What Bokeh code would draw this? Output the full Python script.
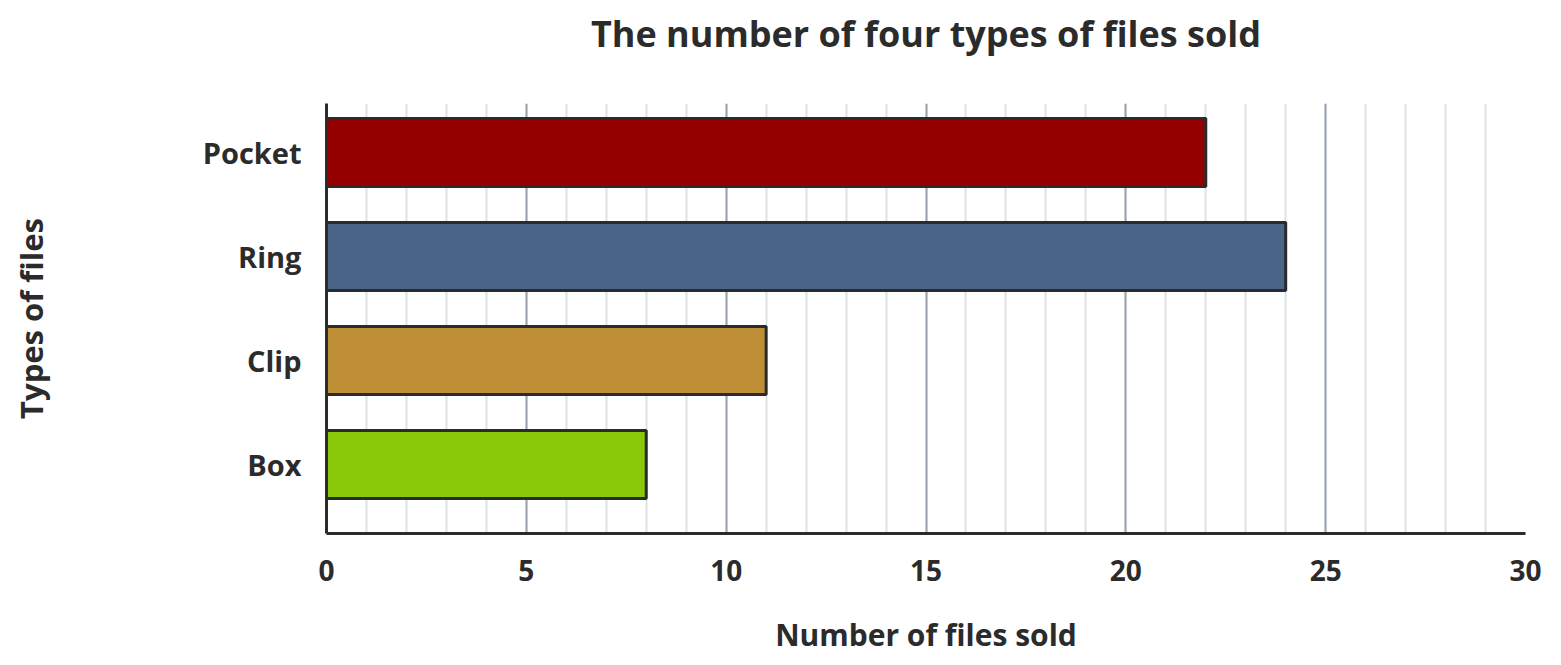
from bokeh.plotting import figure
from bokeh.models import (ColumnDataSource, FixedTicker, SingleIntervalTicker, Range1d,
                          Title, LinearAxis)
from bokeh.embed import file_html
from bokeh.resources import INLINE

title = "The number of four types of files sold"
categories = ["Pocket", "Ring", "Clip", "Box"]
values = [22, 24, 11, 8]
colors = ["#940000", "#4a6588", "#bf8f38", "#8ac80a"]

positions = [len(categories) - i for i in range(len(categories))]
src = ColumnDataSource(dict(y=positions, v=values, c=colors, name=categories))

FONT = "Open Sans"
TXT = "#2b2b2b"

p = figure(width=1553, height=657, output_backend="svg", toolbar_location=None,
           x_range=Range1d(0, 30), y_range=Range1d(0.337, 4.471),
           min_border_left=326, min_border_right=28, min_border_top=103, min_border_bottom=124)

p.hbar(y="y", left=0, right="v", height=0.654, fill_color="c", line_color="#2b2b2b",
       line_width=3, source=src)

# invisible spacer between frame and title
spacer = LinearAxis(axis_line_color=None, major_tick_line_color=None, minor_tick_line_color=None,
                    major_label_text_color=None, major_tick_in=0, major_tick_out=40,
                    minor_tick_in=0, minor_tick_out=0)
p.add_layout(spacer, "above")
p.add_layout(Title(text=title, align="center", vertical_align="bottom", standoff=12,
                   text_font=FONT, text_font_size="36px", text_font_style="bold",
                   text_color=TXT), "above")

p.outline_line_color = None
p.background_fill_color = "white"
p.border_fill_color = "white"

xt = SingleIntervalTicker(interval=5, num_minor_ticks=5)
p.xaxis[0].ticker = xt
p.xgrid.ticker = xt
p.xgrid.grid_line_color = "#9aa3af"
p.xgrid.grid_line_width = 2
p.xgrid.minor_grid_line_color = "#dde2e8"
p.xgrid.minor_grid_line_width = 2
p.ygrid.grid_line_color = None

xaxis = p.below[0]
yaxis = p.left[0]
yaxis.ticker = FixedTicker(ticks=positions)
yaxis.major_label_overrides = {pos: name for pos, name in zip(positions, categories)}

for ax in (xaxis, yaxis):
    ax.axis_line_color = "#2b2b2b"
    ax.axis_line_width = 3
    ax.major_tick_line_color = None
    ax.minor_tick_line_color = None
    ax.major_label_text_font = FONT
    ax.major_label_text_font_style = "bold"
    ax.major_label_text_color = TXT
    ax.axis_label_text_font = FONT
    ax.axis_label_text_font_style = "bold"
    ax.axis_label_text_color = TXT

xaxis.axis_label_text_font_size = "30px"
yaxis.axis_label_text_font_size = "31px"
xaxis.major_label_text_font_size = "28px"
yaxis.major_label_text_font_size = "29px"
xaxis.axis_label = "Number of files sold"
yaxis.axis_label = "Types of files"
xaxis.major_label_standoff = 20
xaxis.axis_label_standoff = 30
yaxis.major_label_standoff = 19
yaxis.axis_label_standoff = 148

open("out.html", "w").write(file_html(p, INLINE))
